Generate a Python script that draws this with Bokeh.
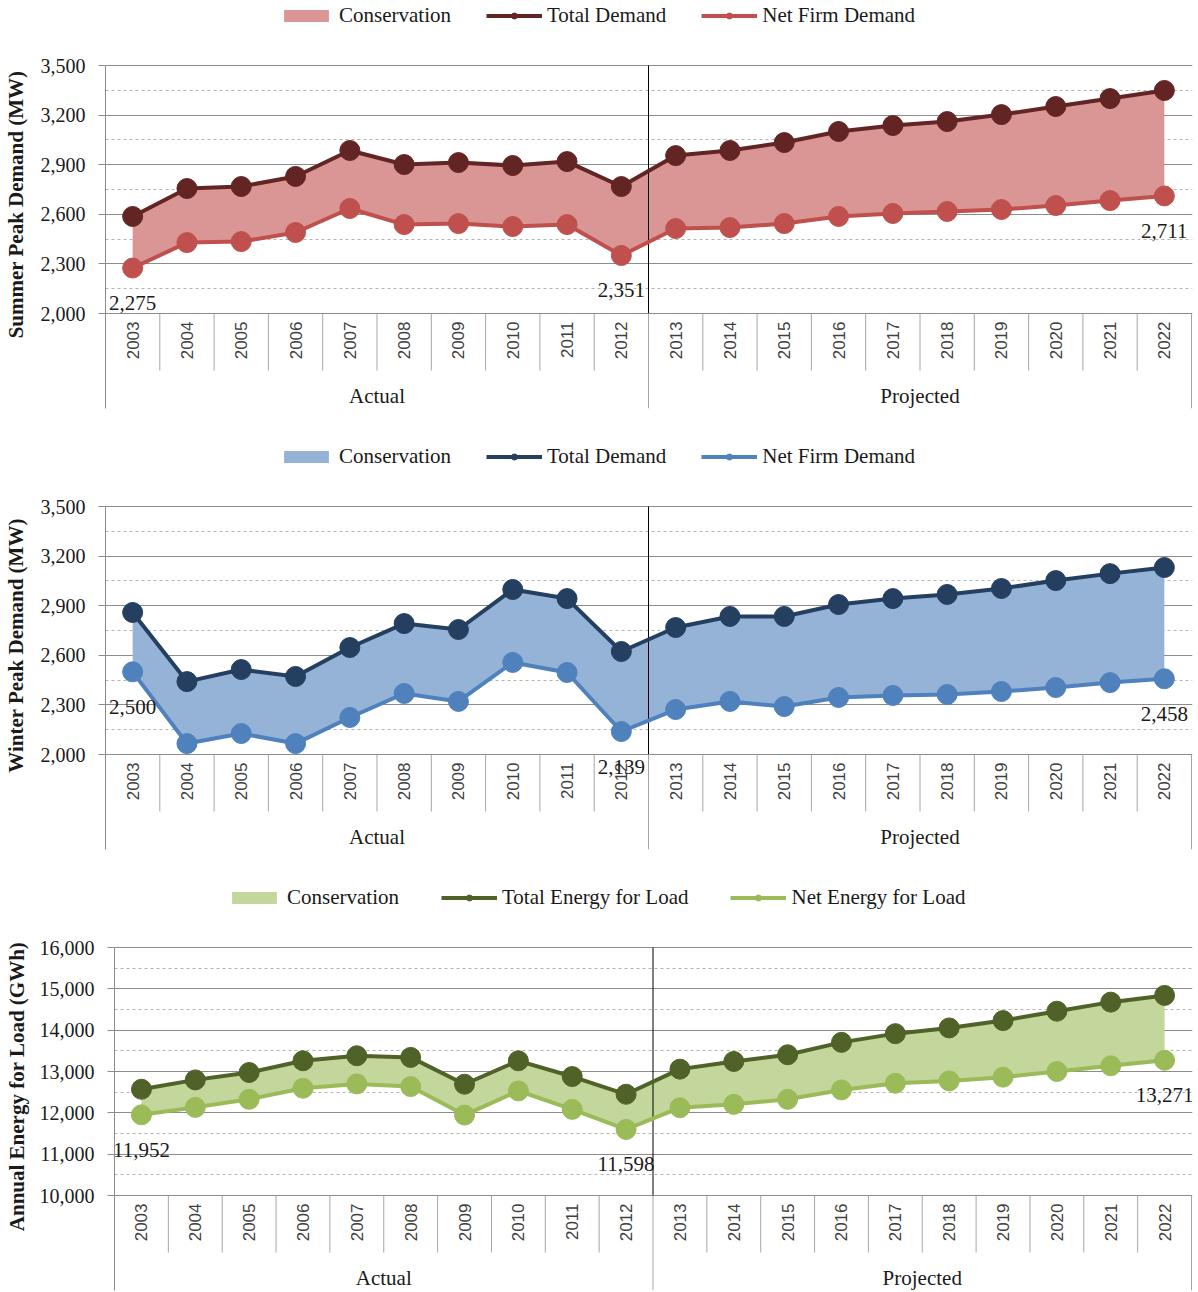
import math
import numpy as np
from bokeh.plotting import figure
from bokeh.models import (Range1d, FixedTicker, NumeralTickFormatter, Legend,
                          LegendItem, ColumnDataSource, Spacer)
from bokeh.layouts import column, row
from bokeh.embed import file_html
from bokeh.resources import INLINE
from bokeh.core.properties import value

# ---------------- data ----------------
years = [str(y) for y in range(2003, 2023)]
group_labels = ["Actual", "Projected"]
n_actual = 10

summer_total = [2587, 2756, 2768, 2829, 2986, 2901, 2913, 2895, 2919, 2768,
                2955, 2986, 3034, 3101, 3137, 3161, 3203, 3252, 3300, 3349]
summer_net = [2275, 2429, 2435, 2490, 2635, 2538, 2544, 2526, 2538, 2351,
              2514, 2520, 2544, 2587, 2605, 2617, 2629, 2653, 2683, 2711]

winter_total = [2859, 2441, 2514, 2472, 2647, 2792, 2756, 2998, 2943, 2623,
                2768, 2835, 2835, 2907, 2943, 2968, 3004, 3052, 3094, 3131]
winter_net = [2500, 2066, 2127, 2066, 2224, 2369, 2321, 2557, 2496, 2139,
              2272, 2321, 2290, 2345, 2357, 2363, 2381, 2405, 2435, 2458]

energy_total = [12570, 12797, 12976, 13259, 13381, 13341, 12692, 13259, 12878, 12449,
                13057, 13243, 13405, 13705, 13916, 14054, 14232, 14459, 14678, 14841]
energy_net = [11952, 12132, 12327, 12595, 12700, 12635, 11946, 12530, 12084, 11598,
              12124, 12205, 12327, 12554, 12716, 12773, 12862, 13000, 13138, 13271]

labeled_idx = [0, 9, 19]

peak_names = ["Conservation", "Total Demand", "Net Firm Demand"]
energy_names = ["Conservation", "Total Energy for Load", "Net Energy for Load"]

# ---------------- style ----------------
SERIF = "Liberation Serif"
SANS = "Liberation Sans"
GRID = "#8c8c8c"
MINOR = "#b4b4b4"
TABLE = "#a6a6a6"
TXT = "#1a1a1a"
PLOT_PX = 248
TABLE_PX = 95
CELL_PX = 57
TOP = 65
LEFT = 104


def make_chart(total, net, ymin, ymax, major, minor, ylabel, names, colors,
               width, height, bottom, legend_x, legend_spacing, label_standoff):
    fill_c, total_c, net_c = colors
    n = len(years)
    unit = (ymax - ymin) / PLOT_PX
    y_start = ymin - TABLE_PX * unit
    y_end = ymax + TOP * unit
    right = 6
    frame_w = width - LEFT - right
    x_end = n + n / (frame_w - 1)

    p = figure(width=width, height=height,
               x_range=Range1d(0, x_end), y_range=Range1d(y_start, y_end),
               output_backend="svg", toolbar_location=None, tools="",
               x_axis_location=None,
               min_border_left=LEFT, min_border_right=right,
               min_border_top=0, min_border_bottom=bottom)
    p.outline_line_color = None
    p.background_fill_color = "white"
    p.border_fill_color = "white"
    p.xgrid.visible = False

    majors = list(range(ymin, ymax + 1, major))
    minors = list(range(ymin + minor, ymax, major))
    ticker = FixedTicker(ticks=majors, minor_ticks=minors)

    yax = p.yaxis[0]
    yax.ticker = ticker
    yax.bounds = (y_start, ymax)
    yax.formatter = NumeralTickFormatter(format="0,0")
    yax.major_label_text_font = SERIF
    yax.major_label_text_font_size = "20px"
    yax.major_label_text_color = TXT
    yax.major_tick_out = 7
    yax.major_tick_in = 0
    yax.minor_tick_line_color = None
    yax.axis_line_color = GRID
    yax.major_tick_line_color = GRID
    yax.major_label_standoff = 13
    yax.axis_label = ylabel
    yax.axis_label_text_font = SERIF
    yax.axis_label_text_font_style = "bold"
    yax.axis_label_text_font_size = "21px"
    yax.axis_label_text_color = TXT
    yax.axis_label_standoff = label_standoff

    g = p.ygrid[0]
    g.ticker = ticker
    g.grid_line_color = GRID
    g.minor_grid_line_color = MINOR
    g.minor_grid_line_dash = "3 3"

    xs = (np.arange(n) + 0.5).tolist()
    src = ColumnDataSource(dict(x=xs, year=years, total=total, net=net,
                                base=[ymin] * n))

    area = p.varea(x="x", y1="net", y2="total", source=src, fill_color=fill_c)

    # divider between actual and projected
    p.segment(x0=[n_actual], y0=[ymin], x1=[n_actual], y1=[ymax],
              line_color="black", line_width=1)

    lt = p.line("x", "total", source=src, line_color=total_c, line_width=4)
    st = p.scatter("x", "total", source=src, size=20, fill_color=total_c,
                   line_color=total_c)
    ln = p.line("x", "net", source=src, line_color=net_c, line_width=4)
    sn = p.scatter("x", "net", source=src, size=20, fill_color=net_c,
                   line_color=net_c)

    # category table below the plot area
    sep_x = [i for i in range(1, n) if i != n_actual]
    p.segment(x0=sep_x, y0=[ymin] * len(sep_x), x1=sep_x,
              y1=[ymin - CELL_PX * unit] * len(sep_x),
              line_color=TABLE, line_width=1)
    grp_x = [n_actual, n]
    p.segment(x0=grp_x, y0=[ymin] * 2, x1=grp_x, y1=[y_start] * 2,
              line_color=TABLE, line_width=1)

    p.text(x="x", y="base", text="year", source=src, angle=math.pi / 2,
           text_align="right", text_baseline="middle", y_offset=8,
           text_font=value(SANS), text_font_size="17px", text_color="#404040")
    p.text(x=[n_actual / 2, (n_actual + n) / 2], y=[ymin, ymin], text=group_labels,
           text_align="center", text_baseline="middle", y_offset=82,
           text_font=value(SERIF), text_font_size="21px", text_color=TXT)

    # data labels
    lab = ColumnDataSource(dict(x=[xs[i] for i in labeled_idx],
                                y=[net[i] for i in labeled_idx],
                                t=[f"{net[i]:,}" for i in labeled_idx]))
    p.text(x="x", y="y", text="t", source=lab, y_offset=35,
           text_align="center", text_baseline="middle",
           text_font=value(SERIF), text_font_size="21px", text_color=TXT)

    frame_h = TOP + PLOT_PX + TABLE_PX
    legend = Legend(items=[LegendItem(label=names[0], renderers=[area]),
                           LegendItem(label=names[1], renderers=[lt, st]),
                           LegendItem(label=names[2], renderers=[ln, sn])],
                    orientation="horizontal",
                    location=(legend_x, frame_h - 28))
    legend.background_fill_alpha = 0
    legend.border_line_color = None
    legend.label_text_font = SERIF
    legend.label_text_font_size = "21px"
    legend.label_text_color = TXT
    legend.glyph_width = 56
    legend.glyph_height = 15
    legend.label_standoff = 5
    legend.spacing = legend_spacing
    legend.padding = 0
    legend.margin = 0
    p.add_layout(legend)
    return p


p1 = make_chart(summer_total, summer_net, 2000, 3500, 300, 150,
                "Summer Peak Demand (MW)", peak_names,
                ("#d99694", "#632523", "#c0504d"),
                width=1198, height=441, bottom=33, legend_x=173, legend_spacing=35,
                label_standoff=10)
p2 = make_chart(winter_total, winter_net, 2000, 3500, 300, 150,
                "Winter Peak Demand (MW)", peak_names,
                ("#95b3d7", "#243f60", "#4f81bd"),
                width=1198, height=441, bottom=33, legend_x=173, legend_spacing=35,
                label_standoff=10)
p3 = make_chart(energy_total, energy_net, 10000, 16000, 1000, 500,
                "Annual Energy for Load (GWh)", energy_names,
                ("#c3d69b", "#4f6228", "#9bbb59"),
                width=1197, height=410, bottom=2, legend_x=112, legend_spacing=42,
                label_standoff=8)

layout = column(p1, p2, row(Spacer(width=1, height=410), p3, spacing=0), spacing=0)
open("out.html", "w").write(file_html(layout, INLINE))
